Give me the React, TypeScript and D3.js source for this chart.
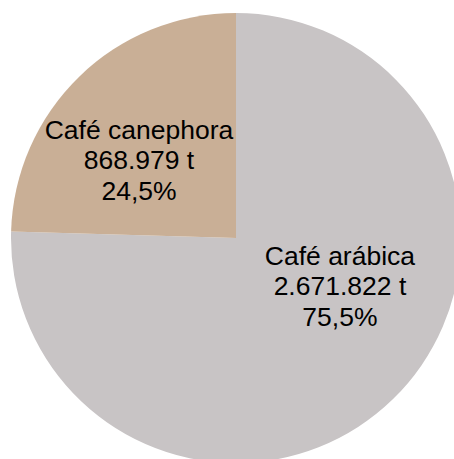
import React from "react";
import * as d3 from "d3";

const categories = ["Café arábica", "Café canephora"];
const tonnes = ["2.671.822 t", "868.979 t"];
const values = [2671822, 868979];
const percentLabels = ["75,5%", "24,5%"];
const colors = ["#C8C4C5", "#C9AF96"];

const W = 454;
const H = 459;
const CX = 236;
const CY = 238;
const R = 225;
// label anchor placement (polar, degrees clockwise from top; distance)
const labelPolar = [
  { angle: 114.8, dist: 114.5 },
  { angle: 308.8, dist: 124.5 },
];

export default function App() {
  const pie = d3.pie<number>().sort(null).value((d) => d);
  const arcs = pie(values);
  const arc = d3.arc<d3.PieArcDatum<number>>().innerRadius(0).outerRadius(R);
  const fontSize = 26.5;
  const lineH = 30.5;
  return (
    <div style={{ position: "fixed", left: 0, top: 0, width: W, height: H, background: "#fff" }}>
      <svg width={W} height={H} style={{ display: "block" }}>
        <g transform={`translate(${CX},${CY})`}>
          {arcs.map((a, i) => (
            <path key={i} d={arc(a) || ""} fill={colors[i]} />
          ))}
          {arcs.map((a, i) => {
            const rad = (labelPolar[i].angle * Math.PI) / 180;
            const x = labelPolar[i].dist * Math.sin(rad);
            const y = -labelPolar[i].dist * Math.cos(rad);
            const lines = [categories[i], tonnes[i], percentLabels[i]];
            return (
              <text
                key={"t" + i}
                x={x}
                y={y}
                textAnchor="middle"
                fontFamily="'Liberation Sans', Arial, sans-serif"
                fontSize={fontSize}
                fill="#000"
              >
                {lines.map((l, j) => (
                  <tspan key={j} x={x} y={y + (j - 1) * lineH} dy="0.35em">
                    {l}
                  </tspan>
                ))}
              </text>
            );
          })}
        </g>
      </svg>
    </div>
  );
}
